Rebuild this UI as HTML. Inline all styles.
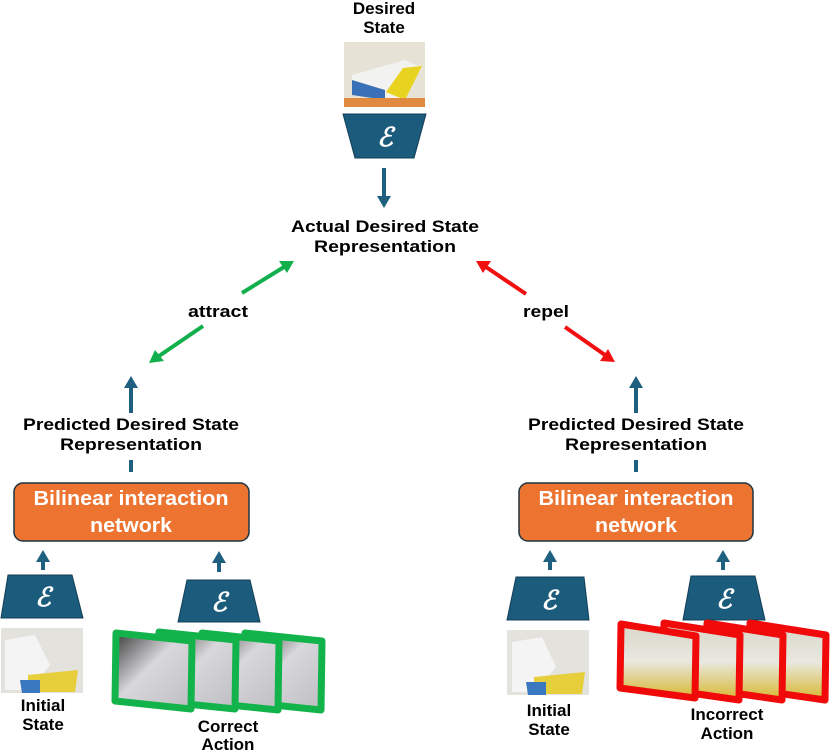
<!DOCTYPE html>
<html><head><meta charset="utf-8"><style>
html,body{margin:0;padding:0;background:#fff;}
svg{display:block;}
text{font-family:"Liberation Sans",Arial,sans-serif;font-weight:bold;}
.e{font-family:"DejaVu Serif","Liberation Serif",serif;font-style:italic;font-weight:bold;}
</style></head><body>
<svg width="830" height="752" viewBox="0 0 830 752" xmlns="http://www.w3.org/2000/svg">
<defs>
<marker id="ab" markerWidth="14" markerHeight="14" refX="4" refY="7" orient="auto" markerUnits="userSpaceOnUse"><path d="M0,0 L12,7 L0,14 Z" fill="#1f5f80"/></marker>
<linearGradient id="gray" x1="0" y1="0" x2="1" y2="1"><stop offset="0" stop-color="#3a3a3a"/><stop offset="0.45" stop-color="#d8d8dc"/><stop offset="1" stop-color="#bdbdc2"/></linearGradient>
<linearGradient id="box" x1="0" y1="0" x2="0" y2="1"><stop offset="0" stop-color="#d9d6c8"/><stop offset="0.5" stop-color="#e8e8e0"/><stop offset="1" stop-color="#d8b830"/></linearGradient>
</defs>

<!-- top -->
<text x="384" y="14" font-size="17" text-anchor="middle">Desired</text>
<text x="384" y="33" font-size="17" text-anchor="middle">State</text>
<rect x="344" y="42" width="81" height="65" fill="#e6e3d6"/>
<polygon points="352,75 405,60 422,68 400,100 352,92" fill="#f2f2f0"/>
<polygon points="386,92 403,68 422,66 405,100" fill="#e8d420"/>
<polygon points="352,80 385,90 385,100 352,95" fill="#3a70b8"/>
<rect x="344" y="98" width="81" height="9" fill="#e08a40"/>
<polygon points="343,114 426,114 414,158 355,158" fill="#1b5b7c" stroke="#143f57" stroke-width="1"/>
<text x="385" y="146" font-size="26" fill="#fff" text-anchor="middle" class="e">ℰ</text>
<line x1="384" y1="168" x2="384" y2="200" stroke="#1f5f80" stroke-width="4" marker-end="url(#ab)"/>
<text x="385" y="232" font-size="17" text-anchor="middle" textLength="188" lengthAdjust="spacingAndGlyphs">Actual Desired State</text>
<text x="385" y="252" font-size="17" text-anchor="middle" textLength="142" lengthAdjust="spacingAndGlyphs">Representation</text>

<!-- attract/repel -->
<g stroke="#12b04c" stroke-width="4" fill="#12b04c">
<line x1="242" y1="293" x2="284" y2="267"/>
<polygon points="294,261 279,261 287,273" stroke="none"/>
<line x1="203" y1="326" x2="159" y2="356"/>
<polygon points="149,363 155,350 164,361" stroke="none"/>
</g>
<g stroke="#f01010" stroke-width="4" fill="#f01010">
<line x1="526" y1="294" x2="486" y2="267"/>
<polygon points="476,261 491,261 483,273" stroke="none"/>
<line x1="565" y1="327" x2="605" y2="355"/>
<polygon points="615,362 600,361 608,349" stroke="none"/>
</g>
<text x="218" y="317" font-size="17" text-anchor="middle" textLength="60" lengthAdjust="spacingAndGlyphs">attract</text>
<text x="546" y="317" font-size="17" text-anchor="middle" textLength="46" lengthAdjust="spacingAndGlyphs">repel</text>

<!-- left branch -->
<line x1="131" y1="413" x2="131" y2="384" stroke="#1f5f80" stroke-width="4" marker-end="url(#ab)"/>
<text x="131" y="430" font-size="17" text-anchor="middle" textLength="216" lengthAdjust="spacingAndGlyphs">Predicted Desired State</text>
<text x="131" y="450" font-size="17" text-anchor="middle" textLength="142" lengthAdjust="spacingAndGlyphs">Representation</text>
<line x1="131" y1="460" x2="131" y2="472" stroke="#1f5f80" stroke-width="4"/>
<rect x="14" y="483" width="235" height="58" rx="9" fill="#ec7430" stroke="#1e3442" stroke-width="1.5"/>
<text x="131" y="505" font-size="20" fill="#fff" text-anchor="middle" textLength="195" lengthAdjust="spacingAndGlyphs">Bilinear interaction</text>
<text x="131" y="532" font-size="20" fill="#fff" text-anchor="middle" textLength="82" lengthAdjust="spacingAndGlyphs">network</text>

<line x1="43" y1="570" x2="43" y2="558" stroke="#1f5f80" stroke-width="4" marker-end="url(#ab)"/>
<polygon points="8,575 72,575 83,618 1,618" fill="#1b5b7c" stroke="#143f57" stroke-width="1"/>
<text x="43" y="606" font-size="26" fill="#fff" text-anchor="middle" class="e">ℰ</text>
<line x1="219" y1="572" x2="219" y2="559" stroke="#1f5f80" stroke-width="4" marker-end="url(#ab)"/>
<polygon points="187,580 250,580 260,622 178,622" fill="#1b5b7c" stroke="#143f57" stroke-width="1"/>
<text x="219" y="611" font-size="26" fill="#fff" text-anchor="middle" class="e">ℰ</text>

<rect x="1" y="628" width="82" height="65" fill="#e4e2dc"/>
<polygon points="5,640 35,635 50,665 30,690 5,690" fill="#f4f4f4"/>
<polygon points="28,675 78,670 75,692 28,692" fill="#e6cf3a"/>
<polygon points="20,680 40,680 40,693 22,693" fill="#3a78c0"/>
<text x="43" y="711" font-size="17" text-anchor="middle">Initial</text>
<text x="43" y="730" font-size="17" text-anchor="middle">State</text>

<g stroke="#13b34b" stroke-width="7" stroke-linejoin="round" fill="url(#gray)">
<polygon points="245,633 322,641 321,710 244,702"/>
<polygon points="202,633 279,641 278,710 201,702"/>
<polygon points="159,632 236,640 235,709 158,701"/>
<polygon points="116,633 192,641 191,709 115,701"/>
</g>
<text x="228" y="732" font-size="17" text-anchor="middle">Correct</text>
<text x="228" y="750" font-size="17" text-anchor="middle">Action</text>

<!-- right branch -->
<line x1="636" y1="413" x2="636" y2="384" stroke="#1f5f80" stroke-width="4" marker-end="url(#ab)"/>
<text x="636" y="430" font-size="17" text-anchor="middle" textLength="216" lengthAdjust="spacingAndGlyphs">Predicted Desired State</text>
<text x="636" y="450" font-size="17" text-anchor="middle" textLength="142" lengthAdjust="spacingAndGlyphs">Representation</text>
<line x1="636" y1="460" x2="636" y2="472" stroke="#1f5f80" stroke-width="4"/>
<rect x="519" y="483" width="234" height="58" rx="9" fill="#ec7430" stroke="#1e3442" stroke-width="1.5"/>
<text x="636" y="505" font-size="20" fill="#fff" text-anchor="middle" textLength="195" lengthAdjust="spacingAndGlyphs">Bilinear interaction</text>
<text x="636" y="532" font-size="20" fill="#fff" text-anchor="middle" textLength="82" lengthAdjust="spacingAndGlyphs">network</text>

<line x1="550" y1="570" x2="550" y2="558" stroke="#1f5f80" stroke-width="4" marker-end="url(#ab)"/>
<polygon points="516,577 584,577 589,620 507,620" fill="#1b5b7c" stroke="#143f57" stroke-width="1"/>
<text x="549" y="609" font-size="26" fill="#fff" text-anchor="middle" class="e">ℰ</text>
<line x1="723" y1="570" x2="723" y2="558" stroke="#1f5f80" stroke-width="4" marker-end="url(#ab)"/>
<polygon points="691,576 755,576 765,620 683,620" fill="#1b5b7c" stroke="#143f57" stroke-width="1"/>
<text x="724" y="608" font-size="26" fill="#fff" text-anchor="middle" class="e">ℰ</text>

<rect x="507" y="630" width="82" height="65" fill="#e4e2dc"/>
<polygon points="512,642 542,637 556,667 536,692 512,692" fill="#f4f4f4"/>
<polygon points="534,677 585,672 582,694 534,694" fill="#e6cf3a"/>
<polygon points="526,682 546,682 546,695 528,695" fill="#3a78c0"/>
<text x="549" y="716" font-size="17" text-anchor="middle">Initial</text>
<text x="549" y="735" font-size="17" text-anchor="middle">State</text>

<g stroke="#f00a0a" stroke-width="7" stroke-linejoin="round" fill="url(#box)">
<polygon points="750,623 826,635 825,700 749,689"/>
<polygon points="707,623 783,635 782,700 706,689"/>
<polygon points="664,623 740,635 739,700 663,689"/>
<polygon points="621,624 696,636 695,698 620,688"/>
</g>
<text x="727" y="720" font-size="17" text-anchor="middle">Incorrect</text>
<text x="727" y="739" font-size="17" text-anchor="middle">Action</text>
</svg>
</body></html>
